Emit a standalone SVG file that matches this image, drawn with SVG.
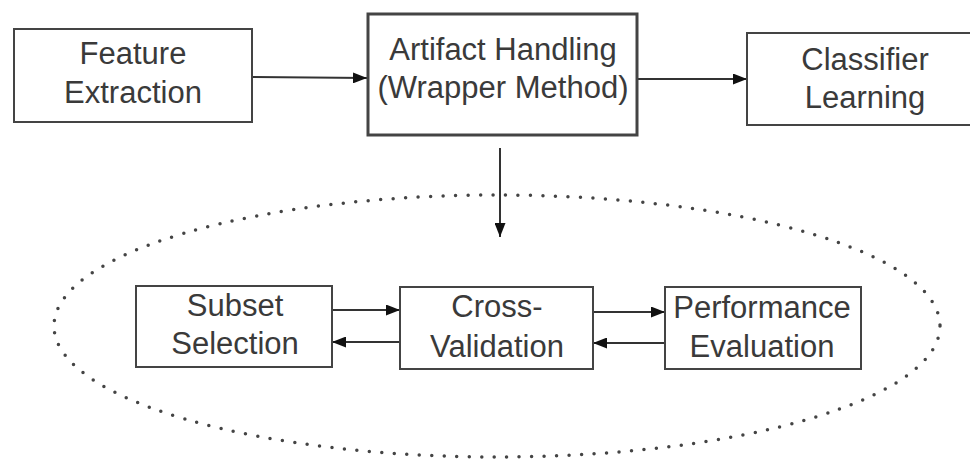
<svg xmlns="http://www.w3.org/2000/svg" width="970" height="461" viewBox="0 0 970 461">
<defs>
<style>
.box{fill:#fff;stroke:#444;stroke-width:2}
.thick{stroke-width:3}
.t{font-family:"Liberation Sans",Arial,sans-serif;font-size:31px;fill:#3a3a3a;text-anchor:middle}
.c{stroke:#333;stroke-width:2;fill:none}
</style>
<marker id="ah" viewBox="0 0 14 11" refX="14" refY="5.5" markerWidth="14" markerHeight="11" markerUnits="userSpaceOnUse" orient="auto">
<path d="M0,0 L14,5.5 L0,11 z" fill="#111"/>
</marker>
</defs>
<rect width="970" height="461" fill="#fff"/>
<ellipse cx="497" cy="326" rx="443" ry="131" fill="none" stroke="#444" stroke-width="3.5" stroke-dasharray="0 12.5" stroke-linecap="round"/>
<g id="connectors">
<line class="c" x1="252" y1="77" x2="367" y2="78" marker-end="url(#ah)"/>
<line class="c" x1="637" y1="79" x2="747" y2="79" marker-end="url(#ah)"/>
<line class="c" x1="500" y1="148" x2="500" y2="237" marker-end="url(#ah)"/>
<line class="c" x1="332" y1="310" x2="400" y2="310" marker-end="url(#ah)"/>
<line class="c" x1="400" y1="342" x2="332" y2="342" marker-end="url(#ah)"/>
<line class="c" x1="593" y1="312" x2="665" y2="312" marker-end="url(#ah)"/>
<line class="c" x1="665" y1="343" x2="593" y2="343" marker-end="url(#ah)"/>
</g>
<g id="feature">
<rect class="box" x="14" y="29" width="238" height="93"/>
<text class="t" x="133" y="64">Feature</text>
<text class="t" x="133" y="103">Extraction</text>
</g>
<g id="artifact">
<rect class="box thick" x="368" y="14" width="269" height="121"/>
<text class="t" x="503" y="60">Artifact Handling</text>
<text class="t" x="503" y="98">(Wrapper Method)</text>
</g>
<g id="classifier">
<rect class="box" x="747" y="33" width="230" height="92"/>
<text class="t" x="865" y="70">Classifier</text>
<text class="t" x="865" y="108">Learning</text>
</g>
<g id="subset">
<rect class="box" x="136" y="286" width="196" height="81"/>
<text class="t" x="235" y="316">Subset</text>
<text class="t" x="235" y="354">Selection</text>
</g>
<g id="crossval">
<rect class="box" x="400" y="287" width="193" height="82"/>
<text class="t" x="497" y="317">Cross-</text>
<text class="t" x="497" y="357">Validation</text>
</g>
<g id="perf">
<rect class="box" x="665" y="287" width="196" height="82"/>
<text class="t" x="762" y="318">Performance</text>
<text class="t" x="762" y="357">Evaluation</text>
</g>
</svg>
